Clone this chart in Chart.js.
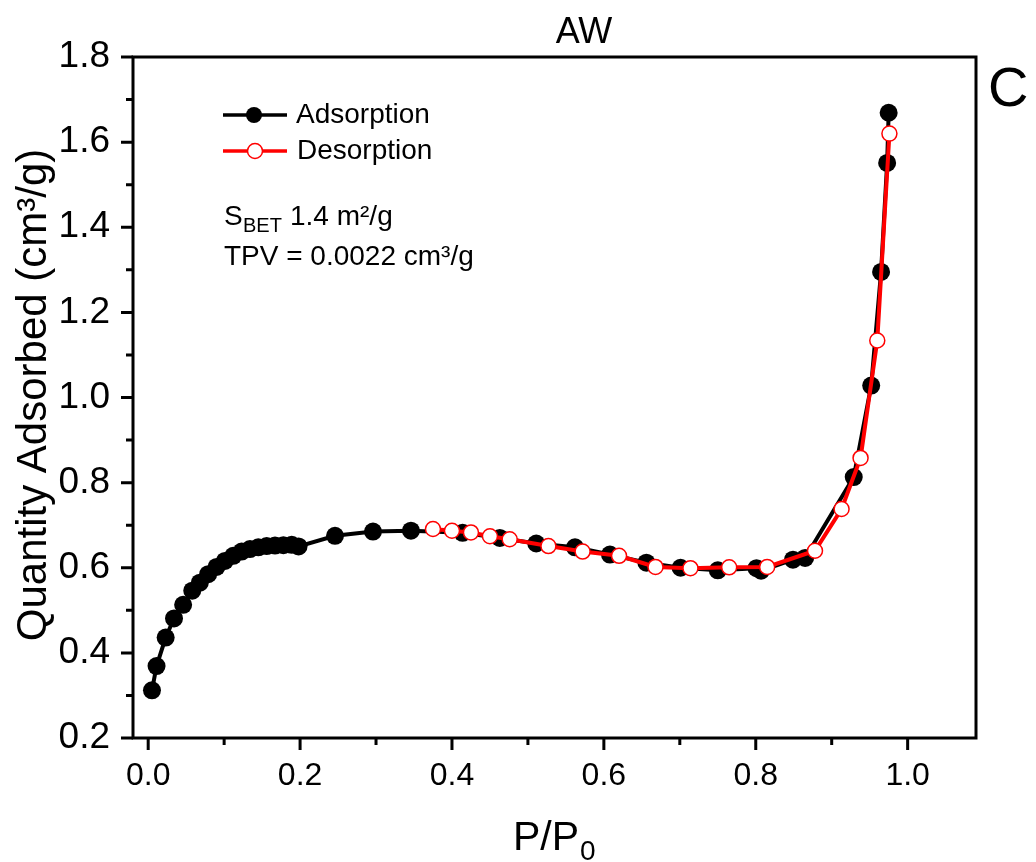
<!DOCTYPE html>
<html>
<head>
<meta charset="utf-8">
<script src="https://cdn.jsdelivr.net/npm/chart.js@4"></script>
<style>
  body { margin: 0; background: #fff; }
</style>
</head>
<body>
<canvas id="myChart" width="1036" height="862"></canvas>
<script>
// adsorption branch (P/P0, cm3/g)
const adsX = [0.005, 0.011, 0.023, 0.034, 0.046, 0.058, 0.068, 0.079, 0.090, 0.101,
              0.112, 0.123, 0.134, 0.145, 0.156, 0.167, 0.178, 0.189, 0.198, 0.246,
              0.296, 0.346, 0.414, 0.463, 0.511, 0.562, 0.608, 0.656, 0.701, 0.750,
              0.801, 0.807, 0.849, 0.865, 0.929, 0.952, 0.965, 0.973, 0.975];
const adsY = [0.312, 0.369, 0.436, 0.481, 0.513, 0.546, 0.565, 0.585, 0.602, 0.616,
              0.628, 0.638, 0.644, 0.648, 0.651, 0.652, 0.653, 0.654, 0.650, 0.675,
              0.685, 0.687, 0.682, 0.670, 0.657, 0.648, 0.631, 0.612, 0.600, 0.594,
              0.599, 0.593, 0.619, 0.623, 0.813, 1.028, 1.295, 1.551, 1.669];

// desorption branch
const desX = [0.976, 0.960, 0.938, 0.913, 0.878, 0.815, 0.765, 0.714, 0.668, 0.620,
              0.572, 0.527, 0.476, 0.450, 0.425, 0.400, 0.375];
const desY = [1.620, 1.134, 0.858, 0.738, 0.640, 0.602, 0.601, 0.599, 0.602, 0.628,
              0.638, 0.651, 0.667, 0.674, 0.683, 0.687, 0.691];

const xTicks = [0, 0.2, 0.4, 0.6, 0.8, 1.0];
const xMinor = [0.1, 0.3, 0.5, 0.7, 0.9];
const yTicks = [0.2, 0.4, 0.6, 0.8, 1.0, 1.2, 1.4, 1.6, 1.8];
const yMinor = [0.3, 0.5, 0.7, 0.9, 1.1, 1.3, 1.5, 1.7];

const FONT = 'Liberation Sans, Arial, sans-serif';

// frame, ticks, labels and annotations
const decor = {
    id: 'decor',
    afterDraw(chart) {
        const c = chart.ctx;
        const a = chart.chartArea;
        const sx = chart.scales.x, sy = chart.scales.y;
        c.save();
        c.strokeStyle = '#000';
        c.fillStyle = '#000';
        c.lineWidth = 3;
        c.strokeRect(a.left, a.top, a.right - a.left, a.bottom - a.top);

        // ticks
        c.beginPath();
        xTicks.forEach(v => { const p = sx.getPixelForValue(v); c.moveTo(p, a.bottom); c.lineTo(p, a.bottom + 12); });
        xMinor.forEach(v => { const p = sx.getPixelForValue(v); c.moveTo(p, a.bottom); c.lineTo(p, a.bottom + 7); });
        yTicks.forEach(v => { const p = sy.getPixelForValue(v); c.moveTo(a.left, p); c.lineTo(a.left - 12, p); });
        yMinor.forEach(v => { const p = sy.getPixelForValue(v); c.moveTo(a.left, p); c.lineTo(a.left - 7, p); });
        c.stroke();

        // x tick labels
        c.font = '32px ' + FONT;
        c.textAlign = 'center';
        c.textBaseline = 'middle';
        xTicks.forEach(v => c.fillText(v.toFixed(1), sx.getPixelForValue(v), 776));

        // x title P/P0
        c.font = '41px ' + FONT;
        c.textAlign = 'left';
        c.textBaseline = 'alphabetic';
        c.fillText('P/P', 513, 850);
        c.font = '28px ' + FONT;
        c.fillText('0', 580, 860);

        // y title
        c.save();
        c.translate(46, 395);
        c.rotate(-Math.PI / 2);
        c.font = '42px ' + FONT;
        c.textAlign = 'center';
        c.fillText('Quantity Adsorbed (cm\u00B3/g)', 0, 0);
        c.restore();

        // title + panel letter
        c.font = '36px ' + FONT;
        c.textAlign = 'center';
        c.fillText('AW', 584, 43);
        c.font = '56px ' + FONT;
        c.textAlign = 'left';
        c.fillText('C', 988, 106);

        // legend
        c.lineWidth = 3.5;
        c.strokeStyle = '#000';
        c.beginPath(); c.moveTo(223, 115); c.lineTo(287, 115); c.stroke();
        c.beginPath(); c.arc(254, 115, 8, 0, Math.PI * 2); c.fill();
        c.strokeStyle = '#ff0000';
        c.beginPath(); c.moveTo(223, 151); c.lineTo(287, 151); c.stroke();
        c.fillStyle = '#fff';
        c.lineWidth = 1.5;
        c.beginPath(); c.arc(255, 151, 7.5, 0, Math.PI * 2); c.fill(); c.stroke();
        c.fillStyle = '#000';
        c.font = '28px ' + FONT;
        c.textBaseline = 'middle';
        c.fillText('Adsorption', 296, 115);
        c.fillText('Desorption', 297, 151);

        // annotation
        c.textBaseline = 'alphabetic';
        c.fillText('S', 224, 225);
        c.font = '20px ' + FONT;
        c.fillText('BET', 243, 232);
        c.font = '28px ' + FONT;
        c.fillText('1.4 m\u00B2/g', 290, 225);
        c.fillText('TPV = 0.0022 cm\u00B3/g', 224, 265);
        c.restore();
    }
};

const ctx = document.getElementById('myChart').getContext('2d');

const myChart = new Chart(ctx, {
    type: 'scatter',
    data: {
        datasets: [{
            label: 'Adsorption',
            data: adsX.map((x, i) => ({ x: x, y: adsY[i] })),
            showLine: true,
            borderColor: '#000',
            borderWidth: 4,
            pointRadius: 9,
            pointBackgroundColor: '#000',
            pointBorderColor: '#000',
            pointBorderWidth: 0,
            order: 2
        }, {
            label: 'Desorption',
            data: desX.map((x, i) => ({ x: x, y: desY[i] })),
            showLine: true,
            borderColor: '#ff0000',
            borderWidth: 4,
            pointRadius: 7.5,
            pointBackgroundColor: '#fff',
            pointBorderColor: '#ff0000',
            pointBorderWidth: 1.5,
            order: 1
        }]
    },
    options: {
        responsive: false,
        animation: false,
        layout: { padding: { left: 0, top: 57, right: 60, bottom: 0 } },
        plugins: { legend: { display: false }, tooltip: { enabled: false } },
        scales: {
            x: {
                type: 'linear',
                min: -0.02,
                max: 1.09,
                grid: { display: false, drawTicks: false },
                border: { display: false },
                ticks: { display: false },
                afterFit(s) { s.height = 124; }
            },
            y: {
                min: 0.2,
                max: 1.8,
                grid: { display: false, drawTicks: false },
                border: { display: false },
                ticks: {
                    color: '#000',
                    padding: 23,
                    autoSkip: false,
                    font: { family: FONT, size: 37 },
                    callback: v => v.toFixed(1)
                },
                afterBuildTicks(s) { s.ticks = yTicks.map(v => ({ value: v })); },
                afterFit(s) { s.width = 133; }
            }
        }
    },
    plugins: [decor]
});
</script>
</body>
</html>
